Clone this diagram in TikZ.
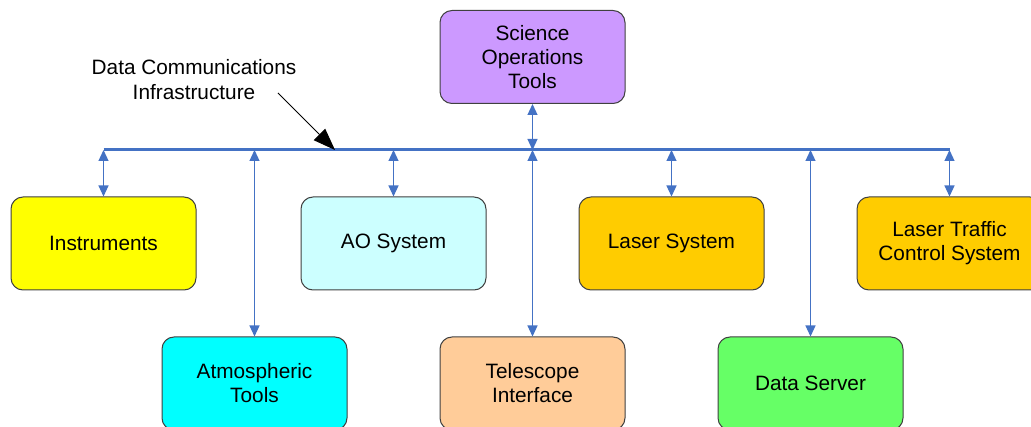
\documentclass[tikz,border=0pt]{standalone}
\usepackage{fontspec}
\setmainfont{Liberation Sans}
\usetikzlibrary{arrows.meta}
\definecolor{busblue}{HTML}{4472C4}
\definecolor{cpurple}{HTML}{CC99FF}
\definecolor{cyellow}{HTML}{FFFF00}
\definecolor{cpale}{HTML}{CCFFFF}
\definecolor{corange}{HTML}{FFCC00}
\definecolor{ccyan}{HTML}{00FFFF}
\definecolor{cpeach}{HTML}{FFCC99}
\definecolor{cgreen}{HTML}{66FF66}
\definecolor{bordergray}{HTML}{404040}
\begin{document}
\begin{tikzpicture}[x=1pt,y=-1pt,
  box/.style={draw=bordergray,line width=1pt,rounded corners=12pt,minimum width=185pt,minimum height=93pt,align=center,font=\fontsize{20.8}{24}\selectfont,inner sep=0pt},
  link/.style={draw=busblue,line width=1.2pt,{Triangle[length=11pt,width=10pt]}-{Triangle[length=11pt,width=10pt]}},
  bus/.style={draw=busblue,line width=3pt},
  note/.style={align=center,font=\fontsize{20.8}{25}\selectfont,inner sep=0pt}]
\useasboundingbox (0,0) rectangle (1031,427);
\clip (0,0) rectangle (1031,427);
\node[box,fill=cpurple] (sci) at (532.5,57) {Science\\Operations\\Tools};
\node[box,fill=cyellow] (ins) at (103.5,243.5) {Instruments};
\node[box,fill=cpale] (ao) at (393.5,243.5) {AO System};
\node[box,fill=corange] (las) at (671.5,243.5) {Laser System};
\node[box,fill=corange] (ltc) at (949.5,243.5) {Laser Traffic\\Control System};
\node[box,fill=ccyan] (atm) at (254.5,383.5) {Atmospheric\\Tools};
\node[box,fill=cpeach] (tel) at (532.5,383.5) {Telescope\\Interface};
\node[box,fill=cgreen] (dat) at (810.5,383.5) {Data Server};

\coordinate (bL) at (103.5,150);
\coordinate (bR) at (949.5,150);
\draw[bus] (bL) -- (bR);

\foreach \n in {ins,atm,ao,tel,las,dat,ltc}{
  \draw[link] (\n.north |- bL) -- (\n.north);
}
\draw[link] (sci.south) -- (sci.south |- bL);

\node[note] (lbl) at (194,80) {Data Communications\\Infrastructure};
\coordinate (ap) at (335,150);
\draw[line width=1pt,-{Triangle[length=22pt,width=16pt]}] (278,93) -- (ap);
\end{tikzpicture}
\end{document}
